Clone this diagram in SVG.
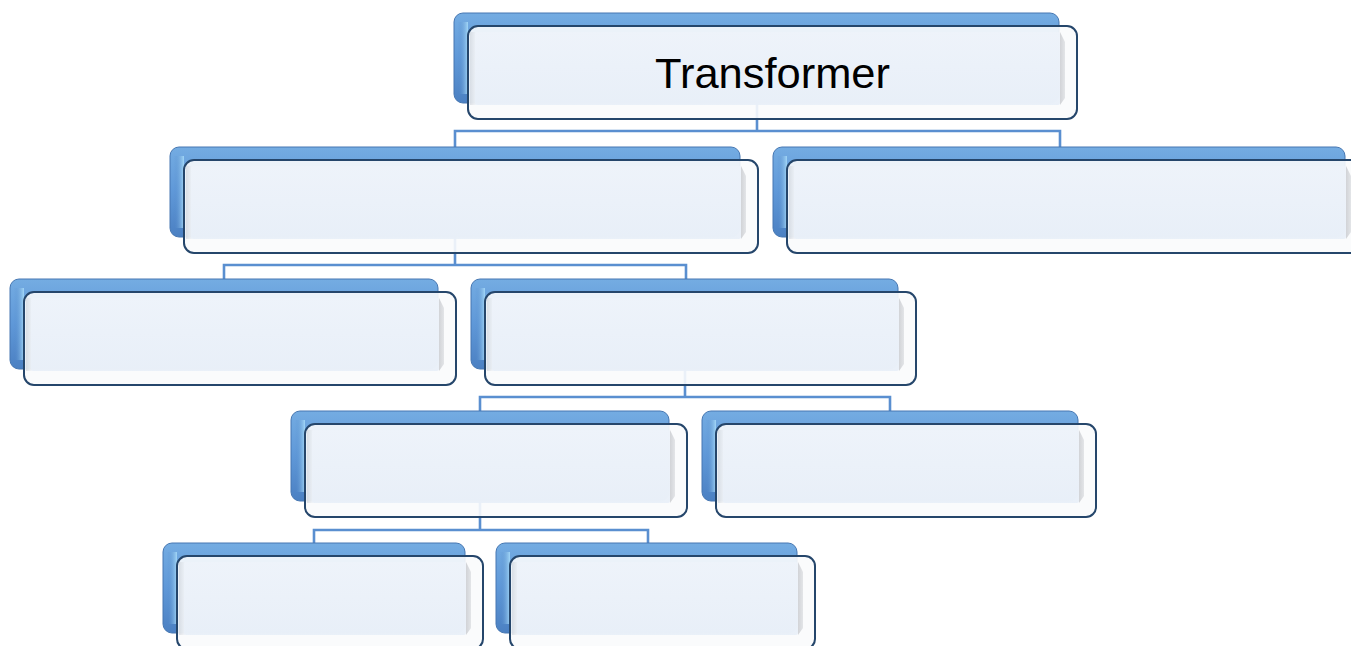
<svg xmlns="http://www.w3.org/2000/svg" width="1351" height="646" viewBox="0 0 1351 646">
<defs>
<linearGradient id="gBack" x1="0" y1="0" x2="0" y2="1">
<stop offset="0" stop-color="#74ace2"/>
<stop offset="0.5" stop-color="#5f98d8"/>
<stop offset="1" stop-color="#4b80c2"/>
</linearGradient>
<linearGradient id="gHi" x1="0" y1="0" x2="1" y2="0">
<stop offset="0" stop-color="#4c82c4" stop-opacity="0"/>
<stop offset="1" stop-color="#a8dcfa" stop-opacity="0.9"/>
</linearGradient>
<linearGradient id="gFace" x1="0" y1="0" x2="0" y2="1">
<stop offset="0" stop-color="#eef3fa"/>
<stop offset="1" stop-color="#e8eff8"/>
</linearGradient>
<linearGradient id="gRBev" x1="0" y1="0" x2="1" y2="0">
<stop offset="0" stop-color="#cfd1d5"/>
<stop offset="1" stop-color="#e2e4e7"/>
</linearGradient>
<linearGradient id="gLBev" x1="0" y1="0" x2="1" y2="0">
<stop offset="0" stop-color="#cdd2d9"/>
<stop offset="1" stop-color="#eef2f7"/>
</linearGradient>
</defs>
<style>
.back{fill:url(#gBack);stroke:#4677b2;stroke-width:1}
.hi{fill:url(#gHi)}
.front{fill:#fafbfc;fill-opacity:0.9;stroke:#25466b;stroke-width:2}
.face{fill:url(#gFace);fill-opacity:0.9}
.rbev{fill:url(#gRBev);fill-opacity:0.95}
.lbev{fill:url(#gLBev);fill-opacity:0.6}
.conn{fill:none;stroke:#5a8fd0;stroke-width:2.6}
.label{font-family:"Liberation Sans",Arial,sans-serif;font-size:43px;fill:#000}
</style>
<g id="connectors">
<path class="conn" d="M757 100 V131 M455 147 V131 H1060 V147"/>
<path class="conn" d="M455 236 V265 M224 279 V265 H686 V279"/>
<path class="conn" d="M685 368 V397 M480 411 V397 H890 V411"/>
<path class="conn" d="M480 502 V530 M314 544 V530 H648 V544"/>
</g>
<g id="n-top">
<rect class="back" x="454" y="13" width="605" height="90" rx="9"/>
<rect class="hi" x="458" y="22" width="10" height="72"/>
<rect class="front" x="468" y="26" width="609" height="93" rx="10"/>
<rect class="lbev" x="470" y="32" width="6" height="73"/>
<rect class="face" x="475" y="32" width="585" height="73" rx="2"/>
<polygon class="rbev" points="1060,32 1065,42 1065,98 1060,105"/>
<text class="label" x="772.5" y="88" text-anchor="middle" textLength="235" lengthAdjust="spacingAndGlyphs">Transformer</text>
</g>
<g id="n-l2a">
<rect class="back" x="170" y="147" width="570" height="90" rx="9"/>
<rect class="hi" x="174" y="156" width="10" height="72"/>
<rect class="front" x="184" y="160" width="574" height="93" rx="10"/>
<rect class="lbev" x="186" y="166" width="6" height="73"/>
<rect class="face" x="191" y="166" width="550" height="73" rx="2"/>
<polygon class="rbev" points="741,166 746,176 746,232 741,239"/>
</g>
<g id="n-l2b">
<rect class="back" x="773" y="147" width="572" height="90" rx="9"/>
<rect class="hi" x="777" y="156" width="10" height="72"/>
<rect class="front" x="787" y="160" width="576" height="93" rx="10"/>
<rect class="lbev" x="789" y="166" width="6" height="73"/>
<rect class="face" x="794" y="166" width="552" height="73" rx="2"/>
<polygon class="rbev" points="1346,166 1351,176 1351,232 1346,239"/>
</g>
<g id="n-l3a">
<rect class="back" x="10" y="279" width="428" height="90" rx="9"/>
<rect class="hi" x="14" y="288" width="10" height="72"/>
<rect class="front" x="24" y="292" width="432" height="93" rx="10"/>
<rect class="lbev" x="26" y="298" width="6" height="73"/>
<rect class="face" x="31" y="298" width="408" height="73" rx="2"/>
<polygon class="rbev" points="439,298 444,308 444,364 439,371"/>
</g>
<g id="n-l3b">
<rect class="back" x="471" y="279" width="427" height="90" rx="9"/>
<rect class="hi" x="475" y="288" width="10" height="72"/>
<rect class="front" x="485" y="292" width="431" height="93" rx="10"/>
<rect class="lbev" x="487" y="298" width="6" height="73"/>
<rect class="face" x="492" y="298" width="407" height="73" rx="2"/>
<polygon class="rbev" points="899,298 904,308 904,364 899,371"/>
</g>
<g id="n-l4a">
<rect class="back" x="291" y="411" width="378" height="90" rx="9"/>
<rect class="hi" x="295" y="420" width="10" height="72"/>
<rect class="front" x="305" y="424" width="382" height="93" rx="10"/>
<rect class="lbev" x="307" y="430" width="6" height="73"/>
<rect class="face" x="312" y="430" width="358" height="73" rx="2"/>
<polygon class="rbev" points="670,430 675,440 675,496 670,503"/>
</g>
<g id="n-l4b">
<rect class="back" x="702" y="411" width="376" height="90" rx="9"/>
<rect class="hi" x="706" y="420" width="10" height="72"/>
<rect class="front" x="716" y="424" width="380" height="93" rx="10"/>
<rect class="lbev" x="718" y="430" width="6" height="73"/>
<rect class="face" x="723" y="430" width="356" height="73" rx="2"/>
<polygon class="rbev" points="1079,430 1084,440 1084,496 1079,503"/>
</g>
<g id="n-l5a">
<rect class="back" x="163" y="543" width="302" height="90" rx="9"/>
<rect class="hi" x="167" y="552" width="10" height="72"/>
<rect class="front" x="177" y="556" width="306" height="93" rx="10"/>
<rect class="lbev" x="179" y="562" width="6" height="73"/>
<rect class="face" x="184" y="562" width="282" height="73" rx="2"/>
<polygon class="rbev" points="466,562 471,572 471,628 466,635"/>
</g>
<g id="n-l5b">
<rect class="back" x="496" y="543" width="301" height="90" rx="9"/>
<rect class="hi" x="500" y="552" width="10" height="72"/>
<rect class="front" x="510" y="556" width="305" height="93" rx="10"/>
<rect class="lbev" x="512" y="562" width="6" height="73"/>
<rect class="face" x="517" y="562" width="281" height="73" rx="2"/>
<polygon class="rbev" points="798,562 803,572 803,628 798,635"/>
</g>
</svg>
